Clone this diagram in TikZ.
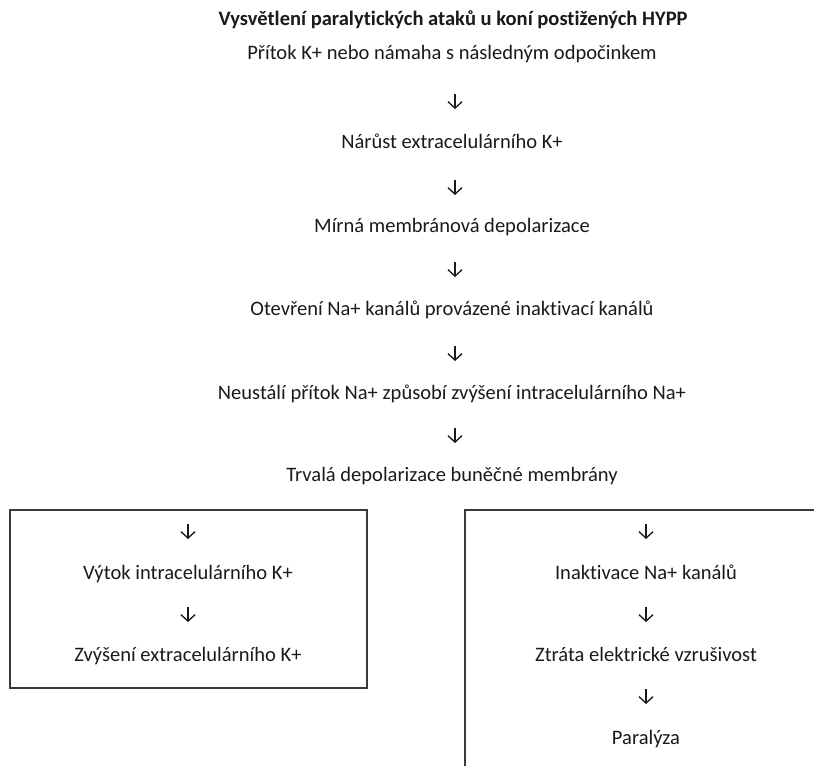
\documentclass[tikz,border=0pt]{standalone}
\usepackage{fontspec}
\setmainfont{Carlito}[Ligatures=NoCommon]
\usepackage{xcolor}
\usetikzlibrary{arrows.meta,positioning}

\definecolor{ink}{HTML}{1A1A1A}
\definecolor{frame}{HTML}{3A3A3A}

\begin{document}
\begin{tikzpicture}[
  x=0.75pt, y=-0.75pt,
  step text/.style={anchor=base, text=ink, inner sep=0pt,
    font=\fontsize{15.4}{18}\selectfont},
  head text/.style={step text, font=\fontsize{15.4}{18}\selectfont\bfseries},
  flow/.style={draw=ink, line width=1pt,
    -{Straight Barb[length=4.8pt, width=10.5pt, line width=1pt]}},
  branch/.style={draw=frame, line width=1.1pt}
]
\useasboundingbox (0,0) rectangle (814,765);
\clip (0,0) rectangle (814,765);

% Title
\node[head text] (title) at (453,25) {Vysvětlení paralytických ataků u koní postižených HYPP};

% Main chain
\node[step text] (s1) at (452,59) {Přítok K+ nebo námaha s následným odpočinkem};
\node[step text] (s2) at (452,148) {Nárůst extracelulárního K+};
\node[step text] (s3) at (452,232) {Mírná membránová depolarizace};
\node[step text] (s4) at (452,315) {Otevření Na+ kanálů provázené inaktivací kanálů};
\node[step text] (s5) at (452,399) {Neustálí přítok Na+ způsobí zvýšení intracelulárního Na+};
\node[step text] (s6) at (452,481) {Trvalá depolarizace buněčné membrány};

\coordinate (a1t) at (455,94);  \coordinate (a1b) at (455,109);
\coordinate (a2t) at (455,180); \coordinate (a2b) at (455,195);
\coordinate (a3t) at (455,262); \coordinate (a3b) at (455,277);
\coordinate (a4t) at (455,346); \coordinate (a4b) at (455,361);
\coordinate (a5t) at (455,428); \coordinate (a5b) at (455,443);
\draw[flow] (a1t) -- (a1b);
\draw[flow] (a2t) -- (a2b);
\draw[flow] (a3t) -- (a3b);
\draw[flow] (a4t) -- (a4b);
\draw[flow] (a5t) -- (a5b);

% Left branch
\draw[branch] (10,510) rectangle (367,688);
\node[step text] (l1) at (188,579) {Výtok intracelulárního K+};
\node[step text] (l2) at (188,661) {Zvýšení extracelulárního K+};
\coordinate (b1t) at (188,524); \coordinate (b1b) at (188,539);
\coordinate (b2t) at (188,607); \coordinate (b2b) at (188,622);
\draw[flow] (b1t) -- (b1b);
\draw[flow] (b2t) -- (b2b);

% Right branch
\draw[branch] (465,510) rectangle (840,800);
\node[step text] (r1) at (646,579) {Inaktivace Na+ kanálů};
\node[step text] (r2) at (646,661) {Ztráta elektrické vzrušivost};
\node[step text] (r3) at (646,744) {Paralýza};
\coordinate (c1t) at (646,524); \coordinate (c1b) at (646,539);
\coordinate (c2t) at (646,607); \coordinate (c2b) at (646,622);
\coordinate (c3t) at (646,689); \coordinate (c3b) at (646,704);
\draw[flow] (c1t) -- (c1b);
\draw[flow] (c2t) -- (c2b);
\draw[flow] (c3t) -- (c3b);

\end{tikzpicture}
\end{document}
